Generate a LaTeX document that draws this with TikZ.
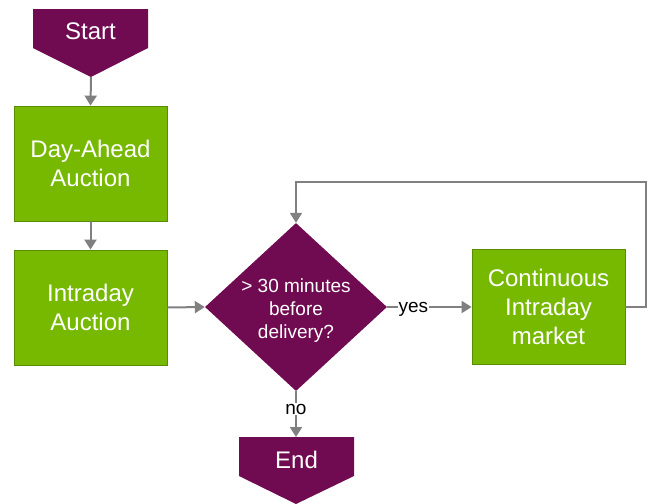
\documentclass[tikz,border=0pt]{standalone}
\usepackage{fontspec}
\setmainfont{Liberation Sans}
\usetikzlibrary{arrows.meta,shapes.geometric}
\definecolor{plum}{RGB}{112,11,81}
\definecolor{leaf}{RGB}{118,185,0}
\definecolor{leafdark}{RGB}{90,140,0}
\definecolor{conn}{RGB}{128,128,128}
\tikzset{
  stepbox/.style={rectangle, fill=leaf, draw=leafdark, line width=0.8pt, minimum width=153pt, minimum height=115pt, inner sep=0pt, align=center, text=white, font=\fontsize{24pt}{29pt}\selectfont},
  decide/.style={diamond, fill=plum, minimum width=182pt, minimum height=168pt, inner sep=0pt},
  decidetext/.style={inner sep=0pt, align=center, text=white, font=\fontsize{19pt}{23pt}\selectfont},
  termtext/.style={rectangle, minimum width=115pt, minimum height=40pt, inner sep=0pt, text=white, font=\fontsize{24pt}{29pt}\selectfont},
  termfill/.style={fill=plum},
  link/.style={draw=conn, line width=2pt, -{Triangle[width=12pt,length=10pt]}},
  lab/.style={fill=white, inner sep=1pt, text=black, font=\fontsize{19pt}{23pt}\selectfont},
}
\begin{document}
\begin{tikzpicture}[x=1pt,y=-1pt]
\useasboundingbox (0,0) rectangle (649,504);
% Start terminal
\fill[termfill] (33,9) -- (148,9) -- (148,48) -- (91,77) -- (33,48) -- cycle;
\coordinate (starttip) at (91,77);
\node[termtext] (start) at (90.5,31) {Start};
% End terminal
\fill[termfill] (239,437) -- (354,437) -- (354,476) -- (296,504) -- (239,476) -- cycle;
\coordinate (endtop) at (296,437);
\node[termtext] (end) at (296.5,460) {End};
% Boxes
\node[stepbox] (dayahead) at (90.5,163.5) {Day-Ahead\\Auction};
\node[stepbox] (intraday) at (90.5,307.5) {Intraday\\Auction};
\node[stepbox] (cont) at (548.5,307) {Continuous\\Intraday\\market};
% Decision
\node[decide] (dia) at (296,307) {};
\node[decidetext] (diatext) at (296,310.5) {> 30 minutes\\before\\delivery?};
% Connectors
\coordinate (loopa) at (646,307);
\coordinate (loopb) at (646,182);
\coordinate (loopc) at (296,182);
\draw[link] (starttip) -- (dayahead.north);
\draw[link] (dayahead.south) -- (intraday.north);
\draw[link] (intraday.east) -- (dia.west);
\draw[link] (dia.east) -- node[lab, pos=0.31, yshift=-2.5pt] (yes) {yes} (cont.west);
\draw[link] (cont.east) -- (loopa) -- (loopb) -- (loopc) -- (dia.north);
\draw[link] (dia.south) -- node[lab, pos=0.39] (no) {no} (endtop);
\end{tikzpicture}
\end{document}
